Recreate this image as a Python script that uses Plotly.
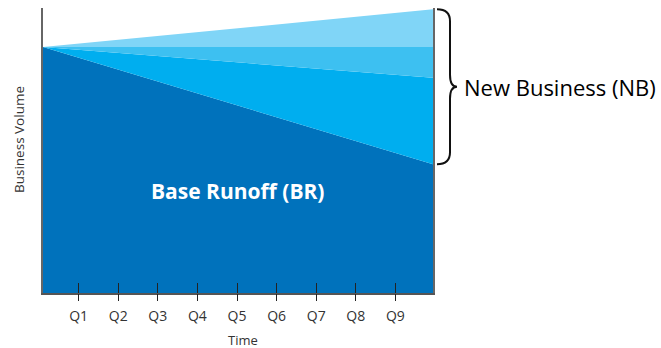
import plotly.graph_objects as go

# ---- data ----
time = [0.1, 9.95]
quarter_pos = [1, 2, 3, 4, 5, 6, 7, 8, 9]
quarter_labels = ["Q1", "Q2", "Q3", "Q4", "Q5", "Q6", "Q7", "Q8", "Q9"]
base_runoff = [100, 52.3]
nb_1 = [0, 35.2]
nb_2 = [0, 12.5]
nb_3 = [0, 15.3]

colors = ["#0072BC", "#00AEEF", "#3DC0F1", "#80D5F7"]
series = [("Base Runoff (BR)", base_runoff), ("NB 1", nb_1), ("NB 2", nb_2), ("NB 3", nb_3)]

W, H = 661, 348
ml, mr, mt, mb = 43, 228, 8, 55
ymax = 115.85
font = "Open Sans"

fig = go.Figure()
for (name, vals), c in zip(series, colors):
    fig.add_trace(go.Scatter(x=time, y=vals, name=name, stackgroup="one",
                             mode="lines", line=dict(width=0, color=c),
                             fillcolor=c, hoverinfo="skip", showlegend=False))
# invisible trace for second x axis
fig.add_trace(go.Scatter(x=time, y=[0, 0], xaxis="x2", mode="lines",
                         line=dict(width=0), hoverinfo="skip", showlegend=False))

# brace from data end values (paper coords)
pw = W - ml - mr
ph = H - mt - mb
top_val = base_runoff[-1] + nb_1[-1] + nb_2[-1] + nb_3[-1]
bot_val = base_runoff[-1]


def px(x):
    return (x - ml) / pw


def py(v):
    return v / ymax


ytop, ybot = py(top_val), py(bot_val)
ymid = (ytop + ybot) / 2
x0, x1, x2 = px(437), px(450), px(457)
r = 12 / ph
path = (f"M {x0},{ytop} Q {x1},{ytop} {x1},{ytop - r} L {x1},{ymid + r} "
        f"Q {x1},{ymid} {x2},{ymid} Q {x1},{ymid} {x1},{ymid - r} "
        f"L {x1},{ybot + r} Q {x1},{ybot} {x0},{ybot}")
fig.add_shape(type="path", path=path, xref="paper", yref="paper",
              line=dict(color="#111", width=2))

fig.add_annotation(x=px(462), y=ymid, xref="paper", yref="paper",
                   text="New Business (NB)", showarrow=False, xanchor="left",
                   yanchor="middle", font=dict(family=font, size=22, color="#000"))
fig.add_annotation(x=5.0, y=41.5, xref="x", yref="y", text="<b>Base Runoff (BR)</b>",
                   showarrow=False, xanchor="center", yanchor="middle",
                   font=dict(family=font, size=21, color="white"))
fig.add_annotation(x=px(19), y=(H - mb - 140) / ph, xref="paper", yref="paper",
                   text="Business Volume", textangle=-90, showarrow=False,
                   xanchor="center", yanchor="middle",
                   font=dict(family=font, size=13.5, color="#333"))
fig.add_annotation(x=px(243), y=-(340 - (H - mb)) / ph, xref="paper", yref="paper",
                   text="Time", showarrow=False, xanchor="center", yanchor="middle",
                   borderpad=0, font=dict(family=font, size=13, color="#333"))

fig.update_layout(
    width=W, height=H, margin=dict(l=ml, r=mr, t=mt, b=mb),
    plot_bgcolor="white", paper_bgcolor="white",
    xaxis=dict(range=[time[0], time[-1]], tickvals=quarter_pos, ticktext=[""] * 9,
               ticks="inside", ticklen=10, tickcolor="#222", tickwidth=1.3,
               showline=True, linecolor="#555", linewidth=1.5,
               showgrid=False, zeroline=False),
    xaxis2=dict(range=[time[0], time[-1]], overlaying="x", side="bottom",
                tickvals=quarter_pos, ticktext=quarter_labels,
                ticks="outside", ticklen=7, tickcolor="#222", tickwidth=1.3,
                ticklabelstandoff=3,
                tickfont=dict(family=font, size=14, color="#333"),
                showline=False, showgrid=False, zeroline=False),
    yaxis=dict(range=[0, ymax], showticklabels=False, ticks="",
               showline=True, linecolor="#666", linewidth=1.5, mirror=True,
               showgrid=False, zeroline=False),
)

fig.write_html("out.html")
